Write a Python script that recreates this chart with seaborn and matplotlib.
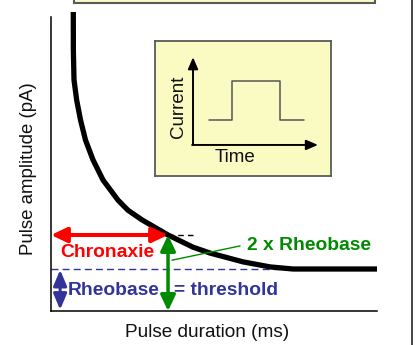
import matplotlib
matplotlib.use("Agg")
import matplotlib.pyplot as plt
import seaborn as sns
import pandas as pd
from matplotlib.patches import Rectangle
from matplotlib.lines import Line2D

# ---- data ----
duration_ms = [0.684, 0.686, 0.706, 0.788, 0.905, 1.058, 1.288, 1.595, 2.055, 2.36, 2.791,
               3.59, 4.356, 4.877, 5.890, 6.718, 7.423, 10.0]
amplitude_pA = [7.12, 6.21, 5.50, 5.02, 4.55, 4.07, 3.60, 3.12, 2.64, 2.40, 2.17,
                1.81, 1.52, 1.38, 1.17, 1.05, 1.00, 1.00]
rheobase_pA = 1.0
chronaxie_ms = 3.59
twice_rheobase_level = 1.81
x_max_ms = 10.0
y_axis_top = 7.0

pulse_time = [3.07, 4.38, 4.38, 7.10, 7.10, 8.47]
pulse_current = [4.15, 4.15, 7.04, 7.04, 4.15, 4.15]

RED = "#ff0000"
GREEN = "#008a00"
NAVY = "#333399"
YELLOW = "#fafac3"
BOX_EDGE = "#5a5a5a"

sns.set_theme(style="white")
plt.rcParams["font.family"] = ["Liberation Sans", "DejaVu Sans"]

W, H = 416, 345
fig = plt.figure(figsize=(W / 100, H / 100), dpi=100)
fig.patch.set_facecolor("white")

def fx(px):
    return px / W

def fy(py):
    return 1 - py / H

# main axes: x 51..377 px, y 311..12 px
ax = fig.add_axes([fx(51), fy(311), fx(377) - fx(51), fy(12) - fy(311)])
ax.set_facecolor("none")
ax.set_xlim(0, x_max_ms)
ax.set_ylim(0, 7.12)
for s in ["top", "right"]:
    ax.spines[s].set_visible(False)
for s in ["left", "bottom"]:
    ax.spines[s].set_color("black")
    ax.spines[s].set_linewidth(1.1)
ax.spines["left"].set_bounds(0, y_axis_top)
ax.set_xticks([])
ax.set_yticks([])

# rheobase dashed line
ax.axhline(rheobase_pA, color=NAVY, lw=1.0, ls=(0, (5, 3)), zorder=2)

# strength-duration curve
df = pd.DataFrame({"duration": duration_ms, "amplitude": amplitude_pA})
sns.lineplot(data=df, x="duration", y="amplitude", ax=ax, color="black", lw=3.8,
             sort=False, estimator=None, zorder=5, clip_on=False)
curve = ax.lines[-1]
curve.set_solid_capstyle("butt")
curve.set_solid_joinstyle("round")
ax.set_xlabel("")
ax.set_ylabel("")

# short black dashed line at 2x rheobase
ax.plot([chronaxie_ms, 4.36], [twice_rheobase_level] * 2, color="black", lw=1.0,
        ls=(0, (4, 3)), zorder=4)

# red chronaxie arrow
ax.annotate("", xy=(0, twice_rheobase_level), xytext=(chronaxie_ms, twice_rheobase_level),
            arrowprops=dict(arrowstyle="<|-|>,head_length=0.95,head_width=0.45",
                            color=RED, lw=2.9, shrinkA=0, shrinkB=0, mutation_scale=10),
            annotation_clip=False, zorder=6)

# green 2x rheobase arrow
ax.annotate("", xy=(chronaxie_ms, twice_rheobase_level), xytext=(chronaxie_ms, 0),
            arrowprops=dict(arrowstyle="<|-|>,head_length=0.95,head_width=0.45",
                            color=GREEN, lw=2.5, shrinkA=0, shrinkB=0, mutation_scale=10),
            annotation_clip=False, zorder=6)

# navy rheobase arrow
ax.annotate("", xy=(0.28, rheobase_pA - 0.02), xytext=(0.28, 0.03),
            arrowprops=dict(arrowstyle="<|-|>,head_length=0.95,head_width=0.4",
                            color=NAVY, lw=2.2, shrinkA=0, shrinkB=0, mutation_scale=10),
            annotation_clip=False, zorder=6)

# green pointer line
ax.plot([3.71, 5.80], [1.21, 1.55], color=GREEN, lw=1.0, zorder=6)

bold = dict(fontsize=13.9, fontweight="bold", va="center", ha="left")
ax.text(0.28, 1.40, "Chronaxie", color=RED, **bold)
ax.text(6.01, 1.57, "2 x Rheobase", color=GREEN, **bold)
ax.text(0.52, 0.50, "Rheobase", color=NAVY, **bold)
ax.text(3.77, 0.50, "= threshold", color=NAVY, **bold)

# axis titles
ax.text(0.479, -0.0735, "Pulse duration (ms)", transform=ax.transAxes, fontsize=13.7,
        color="#111111", ha="center", va="center", clip_on=False)
ax.text(-0.0675, 0.475, "Pulse amplitude (pA)", transform=ax.transAxes, fontsize=13.4,
        color="#111111", ha="center", va="center", rotation=90, clip_on=False)

# top yellow box (cut off at top)
fig.patches.append(Rectangle((fx(74), fy(3)), fx(375) - fx(74), 0.1,
                             transform=fig.transFigure, facecolor=YELLOW,
                             edgecolor=BOX_EDGE, lw=1.5, zorder=1))

# right frame line
fig.lines.append(Line2D([fx(412), fx(412)], [0, 1], transform=fig.transFigure,
                        color="#222222", lw=1.2))

# inset box
ins = fig.add_axes([fx(155), fy(176), fx(331) - fx(155), fy(41) - fy(176)])
ins.set_facecolor(YELLOW)
ins.set_xlim(0, 10)
ins.set_ylim(0, 10)
ins.set_xticks([])
ins.set_yticks([])
for s in ins.spines.values():
    s.set_visible(True)
    s.set_color(BOX_EDGE)
    s.set_linewidth(1.3)

pdf = pd.DataFrame({"t": pulse_time, "i": pulse_current})
sns.lineplot(data=pdf, x="t", y="i", ax=ins, color="#555555", lw=1.1,
             sort=False, estimator=None)
ins.set_xlabel("")
ins.set_ylabel("")

ins.annotate("", xy=(2.16, 8.8), xytext=(2.16, 2.3),
             arrowprops=dict(arrowstyle="-|>,head_length=0.7,head_width=0.3",
                             color="black", lw=1.4, shrinkA=0, shrinkB=0, mutation_scale=10))
ins.annotate("", xy=(9.26, 2.3), xytext=(2.16 - 0.05, 2.3),
             arrowprops=dict(arrowstyle="-|>,head_length=0.7,head_width=0.3",
                             color="black", lw=1.4, shrinkA=0, shrinkB=0, mutation_scale=10))
ins.text(1.31, 5.11, "Current", rotation=90, fontsize=13.5, ha="center", va="center",
         color="#111111")
ins.text(4.55, 1.35, "Time", fontsize=13.5, ha="center", va="center", color="#111111")

fig.savefig("out.png", dpi=100, facecolor="white")
